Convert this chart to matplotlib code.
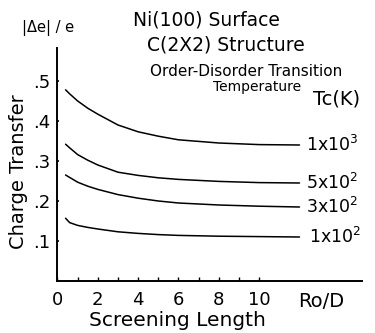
import matplotlib
matplotlib.use("Agg")
import matplotlib.pyplot as plt

plt.rcParams['font.family'] = ['DejaVu Sans']
plt.rcParams['mathtext.default'] = 'regular'

# screening length Ro/D
x = [0.4, 0.6, 1, 1.5, 2, 3, 4, 5, 6, 8, 10, 12]
# charge transfer |Δe|/e for each transition temperature
tc_1e3 = [0.478, 0.468, 0.450, 0.432, 0.417, 0.390, 0.373, 0.362, 0.353, 0.345, 0.341, 0.340]
tc_5e2 = [0.342, 0.333, 0.316, 0.302, 0.290, 0.272, 0.264, 0.258, 0.254, 0.249, 0.246, 0.245]
tc_3e2 = [0.265, 0.259, 0.247, 0.237, 0.229, 0.216, 0.207, 0.200, 0.195, 0.190, 0.187, 0.185]
tc_1e2 = [0.157, 0.146, 0.139, 0.134, 0.130, 0.123, 0.119, 0.116, 0.114, 0.112, 0.111, 0.110]
series = [tc_1e3, tc_5e2, tc_3e2, tc_1e2]
series_labels = ["1x10$^3$", "5x10$^2$", "3x10$^2$", "1x10$^2$"]
label_offsets = [5, 5, 5, 7]

xticks = [0, 2, 4, 6, 8, 10]
yticks = [0.1, 0.2, 0.3, 0.4, 0.5]
ytick_labels = [".1", ".2", ".3", ".4", ".5"]

W, H = 375, 333
fig = plt.figure(figsize=(W / 100, H / 100), dpi=100)
ax = fig.add_axes([57.5 / W, 1 - 281 / H, (362 - 57.5) / W, (281 - 48) / H])
ax.set_xlim(0, 15.1)
ax.set_ylim(0, 0.5825)

for s in series:
    ax.plot(x, s, color='black', lw=1.1, solid_capstyle='round')

for s, lab, off in zip(series, series_labels, label_offsets):
    ax.annotate(lab, xy=(x[-1], s[-1]), xytext=(off, 0), textcoords='offset points',
                va='center', ha='left', fontsize=12.5)

for side in ['top', 'right']:
    ax.spines[side].set_visible(False)
for side in ['left', 'bottom']:
    ax.spines[side].set_linewidth(1.4)

ax.set_xticks(xticks)
ax.set_xticklabels([str(t) for t in xticks], fontsize=13)
ax.set_xticks(list(range(1, 11)), minor=True)
ax.tick_params(axis='x', which='both', direction='in', length=3, width=1, pad=7)
ax.set_yticks(yticks)
ax.set_yticklabels(ytick_labels, fontsize=13)
ax.tick_params(axis='y', direction='in', length=1.5, width=1.2, pad=5)

ax.text(13.1, -0.027, "Ro/D", ha='center', va='top', fontsize=14)

def ft(px, py, s, **kw):
    fig.text(px / W, 1 - py / H, s, **kw)

ft(177, 320, "Screening Length", ha='center', va='center', fontsize=14.5)
ft(19, 172, "Charge Transfer", ha='center', va='center', rotation=90, fontsize=14)
ft(48, 28, "|Δe| / e", ha='center', va='center', fontsize=10.5)
ft(206, 20, "Ni(100) Surface", ha='center', va='center', fontsize=13.5)
ft(226, 45, "C(2X2) Structure", ha='center', va='center', fontsize=13.5)
ft(246, 72, "Order-Disorder Transition", ha='center', va='center', fontsize=11)
ft(257, 87, "Temperature", ha='center', va='center', fontsize=10)
ft(337, 99, "Tc(K)", ha='center', va='center', fontsize=14)

fig.savefig("out.png", dpi=100)
